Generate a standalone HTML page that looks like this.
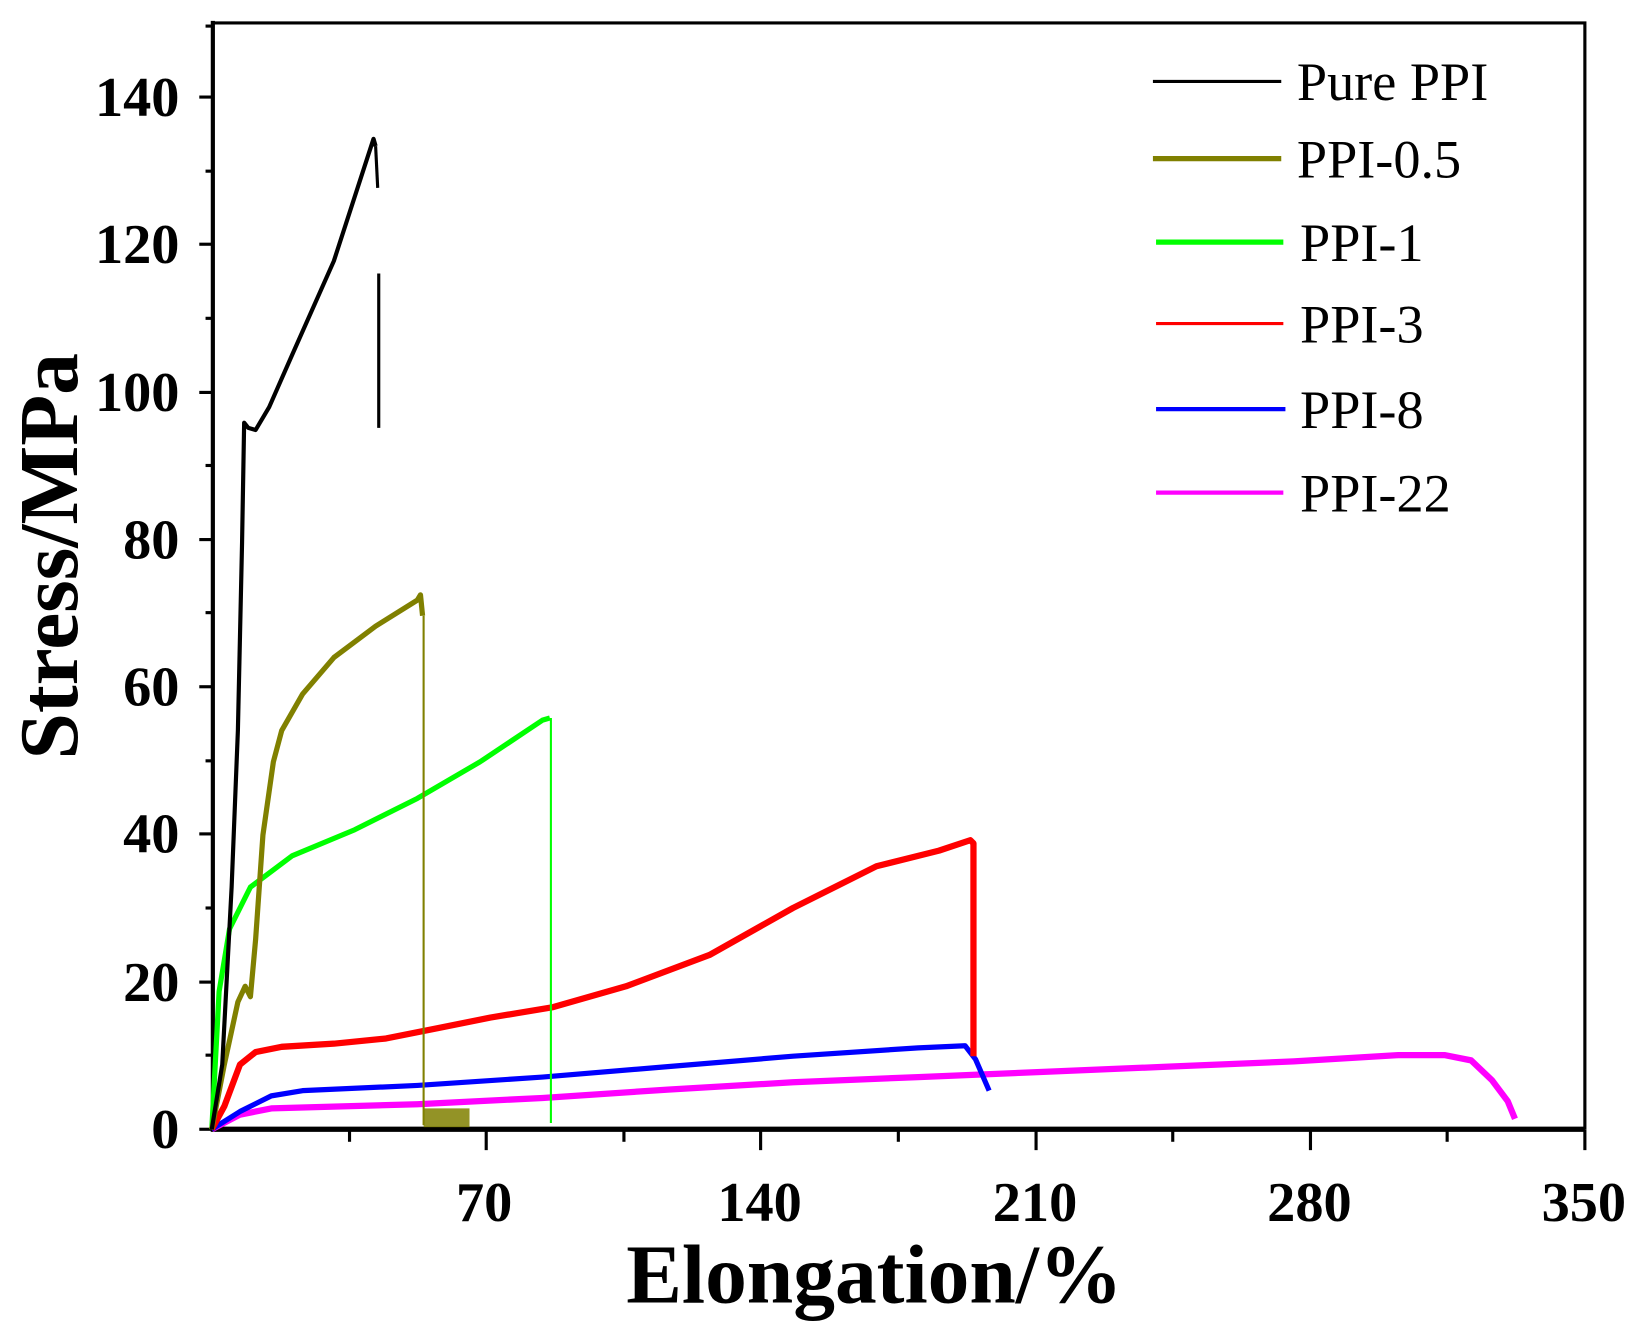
<!DOCTYPE html>
<html><head><meta charset="utf-8"><style>html,body{margin:0;padding:0;background:#fff}svg{display:block}</style></head>
<body>
<svg width="1636" height="1338" viewBox="0 0 1568 1282" preserveAspectRatio="none" xmlns="http://www.w3.org/2000/svg" font-family="Liberation Serif, serif">
<rect width="1568" height="1282" fill="#fff"/>
<path d="M205 22 H1519 V1082" fill="none" stroke="#000" stroke-width="3"/>
<line x1="204" y1="20" x2="204" y2="1084" stroke="#000" stroke-width="4"/>
<line x1="202" y1="1082" x2="1519" y2="1082" stroke="#000" stroke-width="5"/>
<g stroke="#000" stroke-width="3">
<line x1="191" y1="1082" x2="204" y2="1082"/><line x1="191" y1="941" x2="204" y2="941"/><line x1="191" y1="799" x2="204" y2="799"/><line x1="191" y1="658" x2="204" y2="658"/><line x1="191" y1="517" x2="204" y2="517"/><line x1="191" y1="376" x2="204" y2="376"/><line x1="191" y1="234" x2="204" y2="234"/><line x1="191" y1="93" x2="204" y2="93"/>
<line x1="197" y1="1011" x2="204" y2="1011"/><line x1="197" y1="870" x2="204" y2="870"/><line x1="197" y1="729" x2="204" y2="729"/><line x1="197" y1="587" x2="204" y2="587"/><line x1="197" y1="446" x2="204" y2="446"/><line x1="197" y1="305" x2="204" y2="305"/><line x1="197" y1="164" x2="204" y2="164"/><line x1="197" y1="25" x2="204" y2="25"/>
<line x1="466" y1="1082" x2="466" y2="1102"/><line x1="729" y1="1082" x2="729" y2="1102"/><line x1="993" y1="1082" x2="993" y2="1102"/><line x1="1256" y1="1082" x2="1256" y2="1102"/><line x1="1519" y1="1082" x2="1519" y2="1102"/>
<line x1="335" y1="1082" x2="335" y2="1094"/><line x1="598" y1="1082" x2="598" y2="1094"/><line x1="861" y1="1082" x2="861" y2="1094"/><line x1="1124" y1="1082" x2="1124" y2="1094"/><line x1="1387" y1="1082" x2="1387" y2="1094"/>
</g>
<g font-size="54" font-weight="bold" text-anchor="end">
<text x="172" y="1100">0</text><text x="172" y="959">20</text><text x="172" y="817">40</text><text x="172" y="676">60</text><text x="172" y="535">80</text><text x="172" y="394">100</text><text x="172" y="252">120</text><text x="172" y="111">140</text>
</g>
<g font-size="54" font-weight="bold" text-anchor="middle">
<text x="464" y="1170">70</text><text x="728" y="1170">140</text><text x="992" y="1170">210</text><text x="1255" y="1170">280</text><text x="1518" y="1170">350</text>
</g>
<text x="838" y="1248" font-size="80" font-weight="bold" text-anchor="middle">Elongation/%</text>
<text transform="translate(74,533) rotate(-90)" font-size="80" font-weight="bold" text-anchor="middle">Stress/MPa</text>
<g>
<line x1="1105" y1="78" x2="1228" y2="78" stroke="#000" stroke-width="3"/>
<line x1="1105" y1="152" x2="1228" y2="152" stroke="#808000" stroke-width="5"/>
<line x1="1108" y1="232" x2="1230" y2="232" stroke="#00ff00" stroke-width="5"/>
<line x1="1108" y1="310" x2="1230" y2="310" stroke="#ff0000" stroke-width="3"/>
<line x1="1108" y1="392" x2="1232" y2="392" stroke="#0000ff" stroke-width="4"/>
<line x1="1108" y1="472" x2="1230" y2="472" stroke="#ff00ff" stroke-width="4"/>
</g>
<g font-size="52">
<text x="1243" y="96">Pure PPI</text><text x="1243" y="170">PPI-0.5</text><text x="1246" y="250">PPI-1</text><text x="1246" y="328">PPI-3</text><text x="1246" y="410">PPI-8</text><text x="1246" y="490">PPI-22</text>
</g>
<g fill="none" stroke-linejoin="round">
<polyline stroke="#ff00ff" stroke-width="6" points="203,1082 230,1068 260,1062 400,1058 520,1052 640,1044 760,1037 880,1032 1000,1027 1120,1022 1240,1017 1340,1011 1385,1011 1410,1016 1430,1035 1445,1055 1452,1072"/>
<polyline stroke="#0000ff" stroke-width="5" points="203,1082 230,1065 260,1050 290,1045 400,1040 520,1032 640,1022 760,1012 880,1004 925,1002 935,1015 948,1045"/>
<polyline stroke="#ff0000" stroke-width="6" points="203,1082 215,1060 230,1020 245,1008 270,1003 320,1000 370,995 420,985 470,975 530,965 600,945 680,915 760,870 840,830 900,815 930,805 933,808 933,1012"/>
<polyline stroke="#00ff00" stroke-width="5" points="203,1082 210,950 220,890 240,850 280,820 340,795 400,765 460,730 520,690 527,688"/>
<line x1="528" y1="688" x2="528" y2="1076" stroke="#00ff00" stroke-width="2"/>
<polyline stroke="#808000" stroke-width="5" points="203,1082 215,1020 228,960 235,945 240,955 245,900 252,800 262,730 270,700 290,665 320,630 360,600 400,575 403,570 405,590"/>
<line x1="406" y1="590" x2="406" y2="1078" stroke="#808000" stroke-width="2"/>
<rect x="406" y="1062" width="44" height="18" fill="#808000" opacity="0.85"/>
<polyline stroke="#000" stroke-width="4" points="203,1082 213,1020 222,850 228,700 232,520 234,405 238,410 245,412 258,390 280,340 320,250 358,133 360,140"/>
<line x1="363" y1="262" x2="363" y2="410" stroke="#000" stroke-width="3"/>
<line x1="360" y1="140" x2="362" y2="180" stroke="#000" stroke-width="3"/>
</g>
</svg>
</body></html>
